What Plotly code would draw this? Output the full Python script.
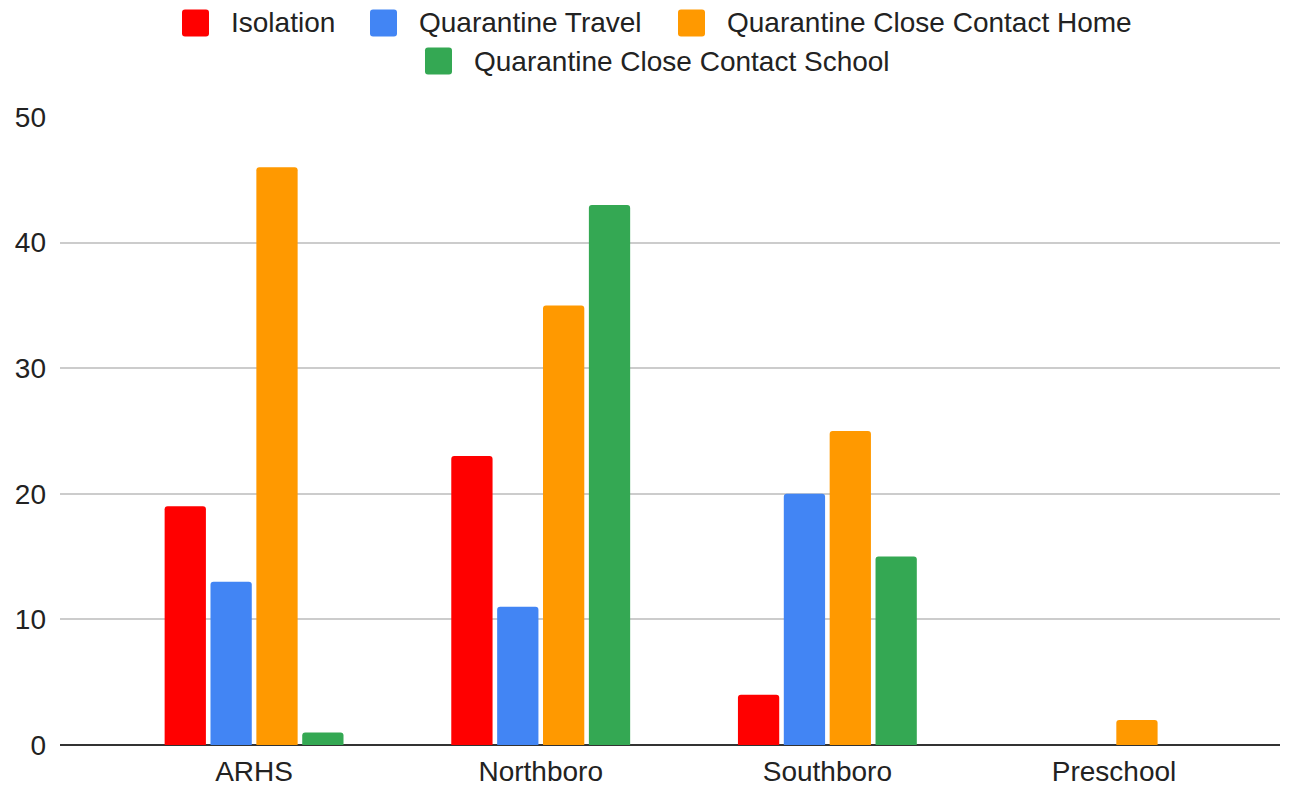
import plotly.graph_objects as go

categories = ["ARHS", "Northboro", "Southboro", "Preschool"]
series_names = ["Isolation", "Quarantine Travel", "Quarantine Close Contact Home", "Quarantine Close Contact School"]
isolation = [19, 23, 4, 0]
quarantine_travel = [13, 11, 20, 0]
close_contact_home = [46, 35, 25, 2]
close_contact_school = [1, 43, 15, 0]
y_ticks = [0, 10, 20, 30, 40, 50]

colors = ["#ff0000", "#4285f4", "#ff9900", "#34a853"]
values = [isolation, quarantine_travel, close_contact_home, close_contact_school]

FONT = "Liberation Sans, Arial, sans-serif"
FS = 28
W, H = 1293, 787
L, R, T, B = 60, 13, 117, 42
PW, PH = W - L - R, H - T - B

fig = go.Figure()
for name, vals, col in zip(series_names, values, colors):
    fig.add_trace(go.Bar(
        x=categories, y=vals, name=name,
        marker=dict(color=col, cornerradius=3, line=dict(width=0)),
        showlegend=False,
    ))

def px_x(p):
    return (p - L) / PW

def px_y(p):
    return (H - B - p) / PH

def rounded_rect(x0, y0, x1, y1, r):
    # pixel coords (y down) -> paper-coordinate SVG path with rounded corners
    def P(x, y):
        return f"{px_x(x):.5f},{px_y(y):.5f}"
    return (
        f"M {P(x0 + r, y0)} L {P(x1 - r, y0)} Q {P(x1, y0)} {P(x1, y0 + r)} "
        f"L {P(x1, y1 - r)} Q {P(x1, y1)} {P(x1 - r, y1)} "
        f"L {P(x0 + r, y1)} Q {P(x0, y1)} {P(x0, y1 - r)} "
        f"L {P(x0, y0 + r)} Q {P(x0, y0)} {P(x0 + r, y0)} Z"
    )

# custom legend (swatch + text), positioned in pixels
SW = 27
legend_items = [
    (182, 23, 229),
    (370, 23, 417),
    (678, 23, 725),
    (425, 61, 472),
]
shapes = []
annotations = []
for (sx, cy, tx), name, col in zip(legend_items, series_names, colors):
    shapes.append(dict(
        type="path", xref="paper", yref="paper",
        path=rounded_rect(sx, cy - SW / 2, sx + SW, cy + SW / 2, 3),
        fillcolor=col, line=dict(width=0), layer="above",
    ))
    annotations.append(dict(
        xref="paper", yref="paper", x=px_x(tx), y=px_y(cy),
        xanchor="left", yanchor="middle", text=name, showarrow=False,
        font=dict(family=FONT, size=FS, color="#222222"),
    ))

fig.update_layout(
    width=W, height=H,
    margin=dict(l=L, r=R, t=T, b=B, autoexpand=False),
    paper_bgcolor="white", plot_bgcolor="white",
    barmode="group", bargap=0.36, bargroupgap=0.1,
    font=dict(family=FONT, size=FS, color="#222222"),
    shapes=shapes, annotations=annotations,
    xaxis=dict(
        range=[-0.677, 3.579], showgrid=False, showline=False, zeroline=False,
        ticks="", tickfont=dict(family=FONT, size=FS, color="#222222"),
        ticklabelstandoff=7, automargin=False, fixedrange=True,
    ),
    yaxis=dict(
        range=[0, 50], tickvals=y_ticks, showgrid=True, gridcolor="#cccccc", gridwidth=1.5,
        zeroline=True, zerolinecolor="#333333", zerolinewidth=2, showline=False,
        ticks="", tickfont=dict(family=FONT, size=FS, color="#222222"),
        ticklabelstandoff=13, automargin=False, fixedrange=True,
    ),
)

fig.write_html(
    "out.html",
    config={"displayModeBar": False},
    post_script="document.body.style.margin='0';document.body.style.overflow='hidden';",
)
